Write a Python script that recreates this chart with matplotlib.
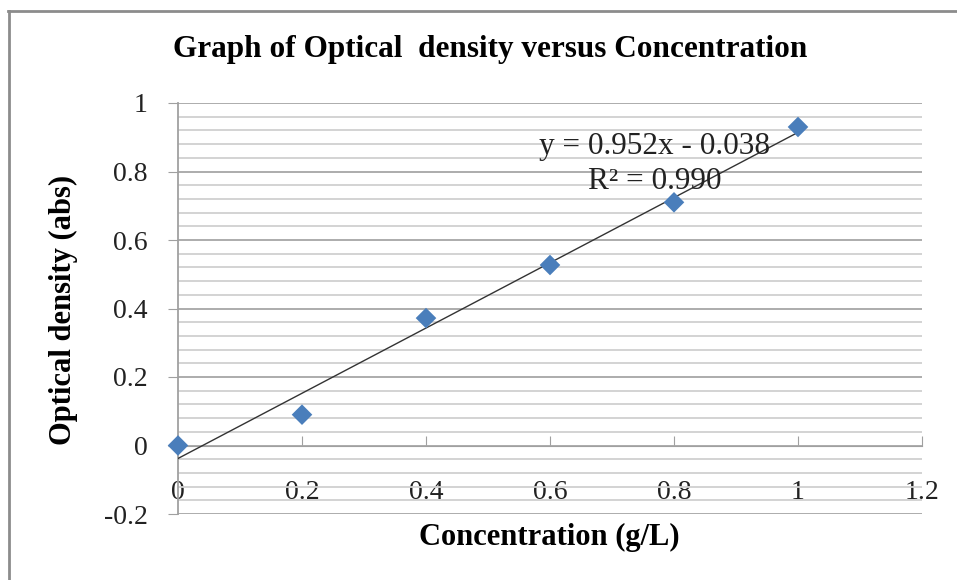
import numpy as np
import matplotlib.pyplot as plt
from matplotlib.ticker import MultipleLocator
from matplotlib.lines import Line2D

# data
concentration = [0.0, 0.2, 0.4, 0.6, 0.8, 1.0]
optical_density = [0.0, 0.09, 0.372, 0.527, 0.71, 0.93]

x_ticks = [0, 0.2, 0.4, 0.6, 0.8, 1.0, 1.2]
x_tick_labels = ['0', '0.2', '0.4', '0.6', '0.8', '1', '1.2']
y_ticks = [-0.2, 0, 0.2, 0.4, 0.6, 0.8, 1.0]
y_tick_labels = ['-0.2', '0', '0.2', '0.4', '0.6', '0.8', '1']

plt.rcParams['font.family'] = ['Liberation Serif', 'DejaVu Serif']

fig = plt.figure(figsize=(9.57, 5.8), dpi=100)
ax = fig.add_axes([178/957, 1 - 514/580, 744/957, 411/580])

# linear trendline, like excel
slope, intercept = np.polyfit(concentration, optical_density, 1)
pred = slope * np.array(concentration) + intercept
y = np.array(optical_density)
r2 = 1 - np.sum((y - pred) ** 2) / np.sum((y - y.mean()) ** 2)
fit_x = np.array([0.0, 1.0])
ax.plot(fit_x, slope * fit_x + intercept, color='#333333', lw=1, zorder=3)

ax.scatter(concentration, optical_density, marker='D', s=110, color='#4a7ebb',
           edgecolors='none', zorder=4, clip_on=False)

ax.set_xlim(0, 1.2)
ax.set_ylim(-0.2, 1.0)

# gridlines
ax.yaxis.set_minor_locator(MultipleLocator(0.04))
ax.grid(axis='y', which='major', color='#a6a6a6', lw=1.3)
ax.grid(axis='y', which='minor', color='#d0d0d0', lw=1.3)
ax.set_axisbelow(True)

for s in ['top', 'right']:
    ax.spines[s].set_visible(False)
ax.spines['bottom'].set_position(('data', 0))
ax.spines['bottom'].set_color('#a0a0a0')
ax.spines['left'].set_color('#a0a0a0')
ax.spines['left'].set_linewidth(1.3)

ax.set_xticks(x_ticks)
ax.set_xticklabels(x_tick_labels)
ax.set_yticks(y_ticks)
ax.set_yticklabels(y_tick_labels)
ax.tick_params(axis='x', direction='in', length=7, color='#a0a0a0', pad=25,
               labelsize=20, labelcolor='#222222')
ax.tick_params(axis='y', direction='out', length=7, color='#a0a0a0', pad=15,
               labelsize=20, labelcolor='#222222')
ax.tick_params(which='minor', length=0)

ax.text(0.769, 0.822, 'y = %.3fx - %.3f\nR² = %.3f' % (slope, -intercept, r2),
        ha='center', va='center', fontsize=22.5, color='#222222', linespacing=1.3)

fig.text(490/957, 1 - 50/580, 'Graph of Optical  density versus Concentration',
         ha='center', va='center', fontsize=22.5, fontweight='bold')
fig.text(549/957, 1 - 537/580, 'Concentration (g/L)', ha='center', va='center',
         fontsize=22, fontweight='bold')
fig.text(63/957, 1 - 310/580, 'Optical density (abs)', ha='center', va='center',
         rotation=90, fontsize=22, fontweight='bold')

# outer chart border (only top and left are visible)
fig.add_artist(Line2D([8/957, 1], [1 - 11/580, 1 - 11/580], color='#8c8c8c', lw=2))
fig.add_artist(Line2D([9/957, 9/957], [0, 1 - 11/580], color='#8c8c8c', lw=2))

plt.savefig('out.png', dpi=100)
